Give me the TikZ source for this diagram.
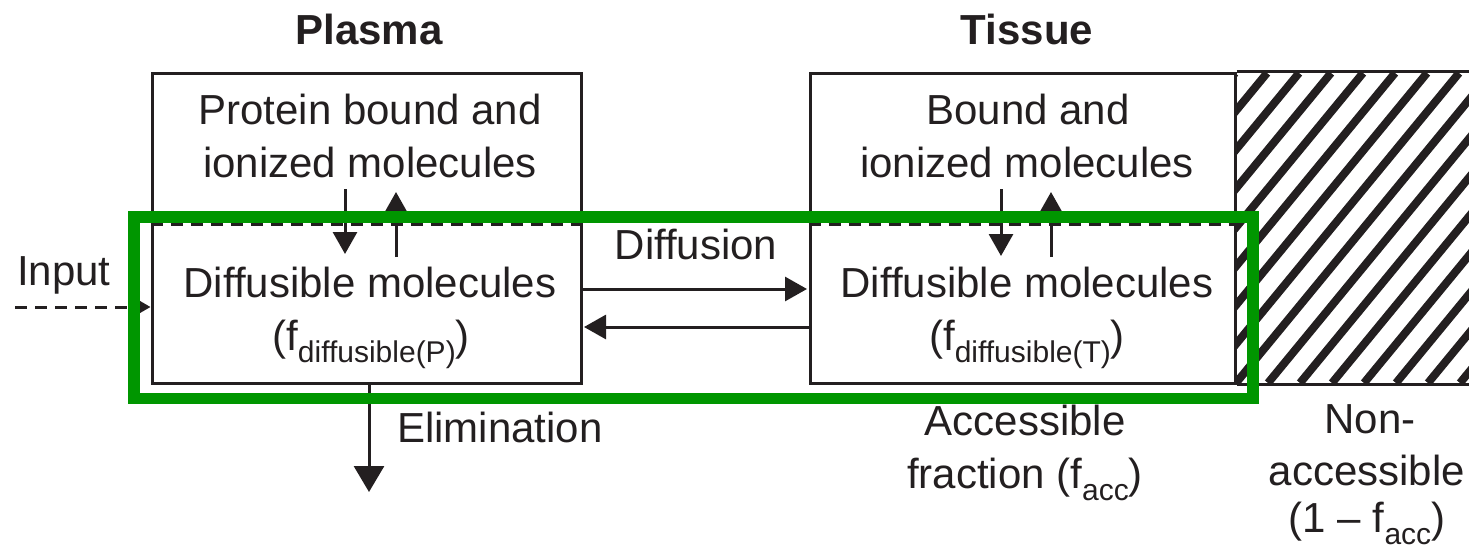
\documentclass[tikz,border=0pt]{standalone}
\usepackage{fontspec}
\setmainfont{Liberation Sans}
\usetikzlibrary{arrows.meta,calc}
\definecolor{ink}{HTML}{231F20}
\definecolor{framegreen}{RGB}{0,150,0}
% lowered, smaller subscript text
\newcommand\lowsub[1]{\raisebox{-12pt}{\fontsize{30}{30}\selectfont #1}}

\begin{document}
\begin{tikzpicture}[x=1pt,y=-1pt,
  txt/.style={font=\fontsize{42}{52}\selectfont, text=ink, inner sep=0pt, anchor=base},
  heading/.style={txt, font=\fontsize{42}{52}\selectfont\bfseries},
  compartment/.style={draw=ink, line width=3pt, inner sep=0pt},
  divider/.style={draw=ink, line width=3pt, dash pattern=on 12pt off 8pt},
  flow/.style={draw=ink, line width=3pt, -{Triangle[length=22pt,width=24pt]}},
  bigflow/.style={flow, -{Triangle[length=26pt,width=30pt]}},
  hatchline/.style={draw=ink, line width=8pt},
  highlight/.style={draw=framegreen, line width=11.5pt}
]
\useasboundingbox (0,0) rectangle (1469,551);

% compartments
\node[compartment, minimum width=429pt, minimum height=310pt] (pbox) at (366.5,228) {};
\node[compartment, minimum width=425pt, minimum height=310pt] (tbox) at (1022.5,228) {};

% non-accessible tissue region (hatched)
\begin{scope}
  \clip (1235,73) rectangle (1469,383);
  \foreach \k in {0,...,17}
    \draw[hatchline] ({1235-255+\k*32},383) -- ++(255,-310);
\end{scope}
\draw[ink, line width=3pt] (tbox.north east) -- ++(240,0);
\draw[ink, line width=3pt] (tbox.south east) -- ++(240,0);

% bound / free boundaries
\coordinate (divy) at (0,224);
\draw[divider] (pbox.west |- divy) -- (pbox.east |- divy);
\draw[divider] (tbox.west |- divy) -- (tbox.east |- divy);

% headings
\node[heading] (plasma) at (369,45) {Plasma};
\node[heading] (tissue) at (1027,45) {Tissue};

% plasma texts
\node[txt] (pbound1) at (370,124) {Protein bound and};
\node[txt] (pbound2) at (370,177) {ionized molecules};
\node[txt] (pfree1) at (370,297) {Diffusible molecules};
\node[txt] (pfree2) at (371,350) {(f\lowsub{diffusible(P)})};

% tissue texts
\node[txt] (tbound1) at (1028,124) {Bound and};
\node[txt] (tbound2) at (1027,177) {ionized molecules};
\node[txt] (tfree1) at (1027,297) {Diffusible molecules};
\node[txt] (tfree2) at (1027,350) {(f\lowsub{diffusible(T)})};

% other labels
\node[txt, anchor=base west] (input) at (17,285) {Input};
\node[txt] (diffusion) at (696,259) {Diffusion};
\node[txt, anchor=base west] (elim) at (397,442) {Elimination};
\node[txt] (acc1) at (1025,435) {Accessible};
\node[txt] (acc2) at (1025,488) {fraction (f\lowsub{acc})};
\node[txt] (nacc1) at (1370,433) {Non-};
\node[txt] (nacc2) at (1367,485) {accessible};
\node[txt] (nacc3) at (1367,532) {(1 – f\lowsub{acc})};

% input
\coordinate (instart) at (15,307);
\draw[flow, dash pattern=on 12pt off 8pt,
      -{Triangle[length=18pt,width=20pt]}] (instart) -- (pbox.west |- instart);

% binding equilibria
\coordinate (pdA) at (345,189); \coordinate (pdB) at (345,254);
\coordinate (puA) at (396,257); \coordinate (puB) at (396,192);
\draw[flow] (pdA) -- (pdB);
\draw[flow] (puA) -- (puB);
\coordinate (tdA) at (1001,189); \coordinate (tdB) at (1001,256);
\coordinate (tuA) at (1051,257); \coordinate (tuB) at (1051,192);
\draw[flow] (tdA) -- (tdB);
\draw[flow] (tuA) -- (tuB);

% diffusion between compartments
\coordinate (fwd) at (0,289);
\coordinate (back) at (0,327);
\draw[flow, shorten >=1.5pt] (pbox.east |- fwd) -- (tbox.west |- fwd);
\draw[flow, shorten >=1.5pt] (tbox.west |- back) -- (pbox.east |- back);

% elimination
\coordinate (elimend) at (369,492);
\draw[bigflow] (pbox.south -| elimend) -- (elimend);

% accessible fraction frame
\draw[highlight] (134,217) rectangle (1253,398.5);
\end{tikzpicture}
\end{document}
